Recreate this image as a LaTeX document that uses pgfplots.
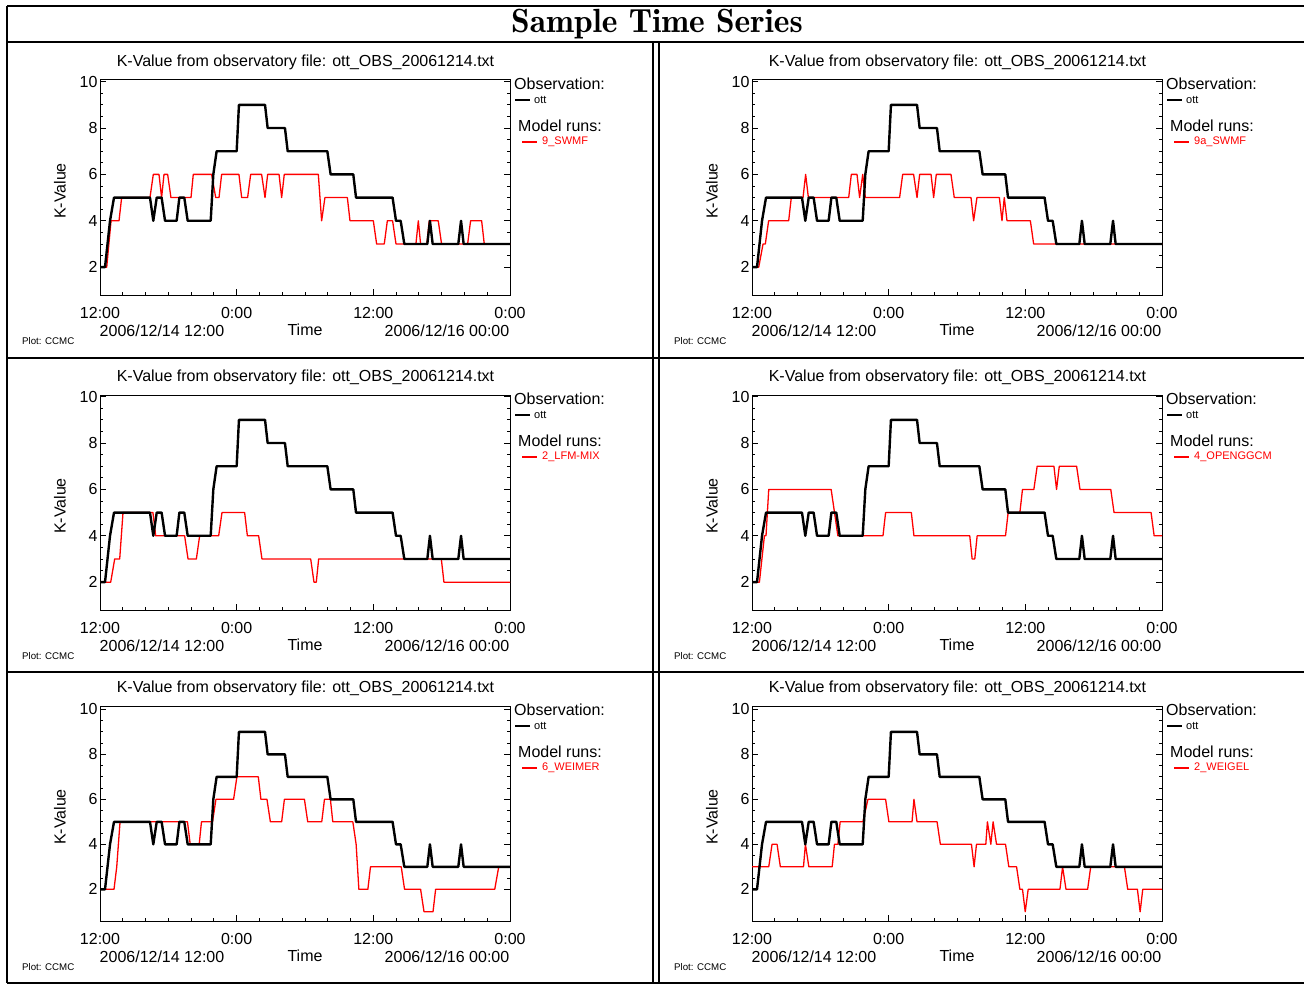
\documentclass[border=0pt]{standalone}
\usepackage{pgfplots}
\pgfplotsset{compat=1.18}
\usepackage{pgfplotstable}
\usepackage{fontspec}
\setmainfont{Liberation Sans}
\newcommand{\fs}[1]{\fontsize{#1}{#1}\selectfont}

\pgfplotstableread{
t v
0 2
0.44 2
0.88 4
1.23 5
4.39 5
4.68 4
4.98 5
5.41 5
5.71 4
6.73 4
6.97 5
7.40 5
7.70 4
9.72 4
9.95 6
10.24 7
12.0 7
12.2 9
14.49 9
14.72 8
16.24 8
16.48 7
19.96 7
20.25 6
22.24 6
22.48 5
25.69 5
25.99 4
26.40 4
26.72 3
28.74 3
28.97 4
29.21 3
31.46 3
31.70 4
31.93 3
36 3
}\obs

\pgfplotstableread{
t v
0 2
0.59 2
0.97 4
1.67 4
1.90 5
4.39 5
4.68 6
5.18 6
5.41 5
5.62 6
5.94 6
6.23 5
7.99 5
8.19 6
9.80 6
10.16 5
10.45 5
10.68 6
12.20 6
12.44 5
12.96 5
13.23 6
14.19 6
14.49 5
14.72 6
15.72 6
15.95 5
16.18 6
19.17 6
19.46 4
19.75 5
21.72 5
21.95 4
24.00 4
24.29 3
24.96 3
25.23 4
25.69 4
25.99 3
27.74 3
27.95 4
28.15 3
28.70 3
28.91 4
29.70 4
29.99 3
32.28 3
32.54 4
33.51 4
33.74 3
36 3
}\redA

\pgfplotstableread{
t v
0 2
0.59 2
0.97 3
1.17 3
1.46 4
3.22 4
3.45 5
4.48 5
4.71 6
4.95 5
8.49 5
8.72 6
9.22 6
9.45 5
9.72 6
9.95 5
12.96 5
13.23 6
14.19 6
14.49 5
14.72 6
15.72 6
15.95 5
16.18 6
17.47 6
17.76 5
19.23 5
19.46 4
19.75 5
21.72 5
21.95 4
22.15 5
22.39 4
24.44 4
24.73 3
36 3
}\redB

\pgfplotstableread{
t v
0 2
0.94 2
1.29 3
1.73 3
2.02 5
4.65 5
4.89 4
7.43 4
7.73 3
8.46 3
8.75 4
10.42 4
10.71 5
12.70 5
12.94 4
13.93 4
14.22 3
18.50 3
18.79 2
18.99 2
19.20 3
29.97 3
30.20 2
36 2
}\redC

\pgfplotstableread{
t v
0 2
0.65 2
1.09 4
1.23 4
1.47 6
6.95 6
7.54 4
11.50 4
11.73 5
13.99 5
14.22 4
19.12 4
19.33 3
19.56 3
19.77 4
22.26 4
22.49 5
23.52 5
23.75 6
24.75 6
25.04 7
26.51 7
26.74 6
26.98 7
28.50 7
28.80 6
31.50 6
31.79 5
35.04 5
35.31 4
36 4
}\redD

\pgfplotstableread{
t v
0 2
1.23 2
1.47 3
1.76 5
7.68 5
7.92 4
8.71 4
8.91 5
9.88 5
10.18 6
11.73 6
12.02 7
13.90 7
14.13 6
14.66 6
14.96 5
15.95 5
16.19 6
17.95 6
18.24 5
19.47 5
19.71 6
20.23 6
20.44 5
22.20 5
22.49 4
22.73 2
23.52 2
23.75 3
26.45 3
26.74 2
28.15 2
28.45 1
29.24 1
29.47 2
34.66 2
35.01 3
36 3
}\redE

\pgfplotstableread{
t v
0 3
1.47 3
1.76 4
2.20 4
2.49 3
4.52 3
4.69 4
4.99 3
7.04 3
7.24 4
7.54 4
7.74 5
9.74 5
10.18 6
11.73 6
12.02 5
14.05 5
14.22 6
14.49 5
16.25 5
16.54 4
19.27 4
19.50 3
19.71 4
20.53 4
20.67 5
20.97 4
21.17 5
21.47 4
22.26 4
22.55 3
23.23 3
23.52 2
23.75 2
23.99 1
24.25 2
27.04 2
27.27 3
27.57 2
29.47 2
29.74 3
32.70 3
32.99 2
33.84 2
34.08 1
34.31 2
36 2
}\redF

\pgfplotsset{kp/.style={
  anchor=south west, scale only axis, width=410pt, height=215pt,
  xmin=0, xmax=36,
  xtick={0,12,24,36}, xticklabels={12:00,0:00,12:00,0:00},
  minor x tick num=5,
  ytick={2,4,6,8,10}, minor y tick num=3,
  xtick pos=bottom, ytick pos=both,
  tick align=inside, major tick length=6pt, minor tick length=3pt,
  tick style={black, line width=0.8pt},
  axis line style={line width=1pt},
  tick label style={font=\fs{16}},
  /pgf/number format/assume math mode=true,
  xticklabel style={yshift=-9pt},
  yticklabel style={xshift=1pt},
}}

\newcommand{\panel}[6]{%
\begin{axis}[kp, at={({(#1+100)*1pt},{-(#2+295)*1pt})}, ymin=#3, ymax=#4]
\addplot[red, line width=1.3pt, line join=round] table {#6};
\addplot[black, line width=2.4pt, line join=round] table {\obs};
\end{axis}
\node[font=\fs{16}] at ({(#1+305.5)*1pt},{-(#2+62.5)*1pt}) {K-Value from observatory file: ott\_OBS\_20061214.txt};
\node[font=\fs{16}] at ({(#1+162)*1pt},{-(#2+331)*1pt}) {2006/12/14 12:00};
\node[font=\fs{16}] at ({(#1+305)*1pt},{-(#2+330)*1pt}) {Time};
\node[font=\fs{16}] at ({(#1+447)*1pt},{-(#2+331)*1pt}) {2006/12/16 00:00};
\node[font=\fs{16}, rotate=90] at ({(#1+60)*1pt},{-(#2+191)*1pt}) {K-Value};
\node[font=\fs{9.7}, anchor=west, inner sep=0pt] at ({(#1+22)*1pt},{-(#2+341)*1pt}) {Plot: CCMC};
\node[font=\fs{16}, anchor=west, inner sep=0pt] at ({(#1+514)*1pt},{-(#2+84)*1pt}) {Observation:};
\draw[black, line width=2.4pt] ({(#1+515)*1pt},{-(#2+100)*1pt}) -- ++(15pt,0pt);
\node[font=\fs{11}, anchor=west, inner sep=0pt] at ({(#1+534)*1pt},{-(#2+100)*1pt}) {ott};
\node[font=\fs{16}, anchor=west, inner sep=0pt] at ({(#1+518)*1pt},{-(#2+126)*1pt}) {Model runs:};
\draw[red, line width=1.3pt] ({(#1+522)*1pt},{-(#2+142)*1pt}) -- ++(15pt,0pt);
\node[font=\fs{11}, anchor=west, inner sep=0pt, text=red] at ({(#1+542)*1pt},{-(#2+142)*1pt}) {#5};
}

\begin{document}
\begin{tikzpicture}
\useasboundingbox (0pt,0pt) rectangle (1304pt,-985pt);
\fill[white] (0pt,0pt) rectangle (1304pt,-985pt);
\begin{scope}[line width=1.2pt]
\draw (7pt,-6pt) -- (1312pt,-6pt);
\draw (7pt,-42pt) -- (1312pt,-42pt);
\draw (7pt,-358pt) -- (1312pt,-358pt);
\draw (7pt,-672pt) -- (1312pt,-672pt);
\draw (7pt,-983pt) -- (1312pt,-983pt);
\draw (7pt,-6pt) -- (7pt,-983pt);
\draw (653pt,-42pt) -- (653pt,-983pt);
\draw (659pt,-42pt) -- (659pt,-983pt);
\end{scope}
\node[font=\fontfamily{lmr}\bfseries\fontsize{33.5}{33.5}\selectfont] at (657pt,-24pt) {Sample Time Series};
\panel{0}{0}{0.8}{10.07}{9\_SWMF}{\redA}
\panel{652}{0}{0.8}{10.07}{9a\_SWMF}{\redB}
\panel{0}{315}{0.8}{10.07}{2\_LFM-MIX}{\redC}
\panel{652}{315}{0.8}{10.07}{4\_OPENGGCM}{\redD}
\panel{0}{626}{0.59}{10.15}{6\_WEIMER}{\redE}
\panel{652}{626}{0.59}{10.15}{2\_WEIGEL}{\redF}
\end{tikzpicture}
\end{document}
